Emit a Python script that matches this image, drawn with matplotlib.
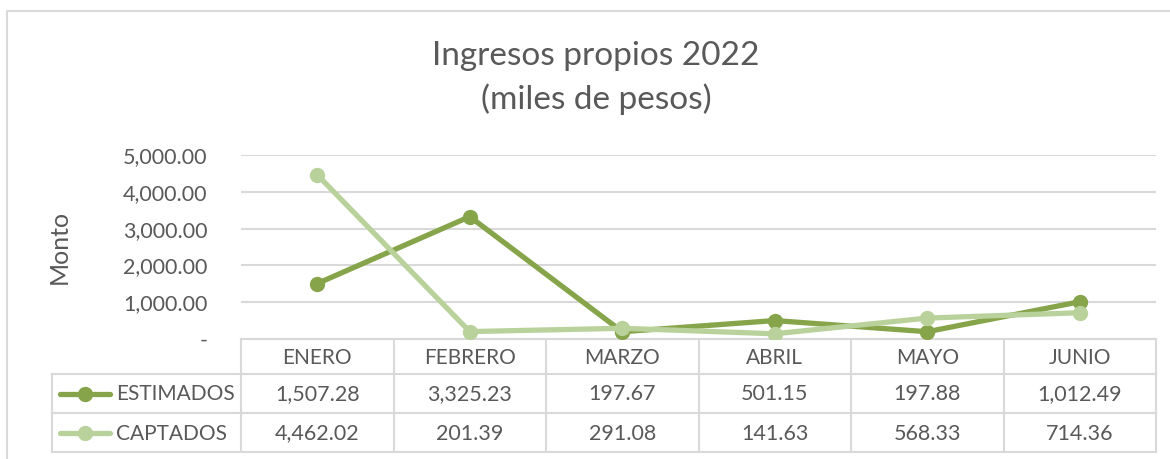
import matplotlib.pyplot as plt
from matplotlib.ticker import FuncFormatter

plt.rcParams['font.family'] = ['Lato', 'DejaVu Sans']

meses = ['ENERO', 'FEBRERO', 'MARZO', 'ABRIL', 'MAYO', 'JUNIO']
estimados = [1507.28, 3325.23, 197.67, 501.15, 197.88, 1012.49]
captados = [4462.02, 201.39, 291.08, 141.63, 568.33, 714.36]
series_names = ['ESTIMADOS', 'CAPTADOS']
series_colors = ['#86A44A', '#B9D29C']

W, H = 1170, 459
txt = '#595959'
grid = '#D9D9D9'

fig = plt.figure(figsize=(W / 100, H / 100), dpi=100)

# overlay axes in pixel coordinates for frame + table
ov = fig.add_axes([0, 0, 1, 1])
ov.set_xlim(0, W)
ov.set_ylim(H, 0)
ov.axis('off')

# chart frame (left and top edges visible)
ov.plot([6.5, 6.5, W], [H, 10.5, 10.5], color=grid, lw=1.5, solid_capstyle='butt')

# plot area
x0, x1 = 241, 1156
y_top, y_bot = 155, 339
ax = fig.add_axes([x0 / W, (H - y_bot) / H, (x1 - x0) / W, (y_bot - y_top) / H])
ax.set_facecolor('none')
xs = range(len(meses))
ax.plot(xs, estimados, color=series_colors[0], lw=3.8, marker='o', ms=10, zorder=3)
ax.plot(xs, captados, color=series_colors[1], lw=3.8, marker='o', ms=10, zorder=4)
ax.set_xlim(-0.5, len(meses) - 0.5)
ax.set_ylim(0, 5000)
ax.set_yticks([0, 1000, 2000, 3000, 4000, 5000])
ax.yaxis.set_major_formatter(FuncFormatter(lambda v, p: '-' if v == 0 else f'{v:,.2f}'))
ax.tick_params(axis='y', length=0, pad=24, labelsize=15.5, labelcolor=txt)
ax.set_xticks([])
for s in ax.spines.values():
    s.set_visible(False)
ax.grid(axis='y', color=grid, lw=1.5)
ax.set_axisbelow(True)
ax.set_ylabel('Monto', fontsize=18, color=txt, labelpad=38)

fig.text(596 / W, 1 - 78 / H, 'Ingresos propios 2022\n(miles de pesos)', ha='center', va='center',
         fontsize=24, color=txt, linespacing=1.45)

# data table
col_w = (x1 - x0) / len(meses)
rows = [339, 374, 413, 452]
lx = 52
lk = dict(color=grid, lw=1.5, solid_capstyle='projecting')
ov.plot([x0, x1], [rows[0], rows[0]], **lk)
for r in rows[1:]:
    ov.plot([lx, x1], [r, r], **lk)
for k in range(len(meses) + 1):
    ov.plot([x0 + k * col_w] * 2, [rows[0], rows[-1]], **lk)
ov.plot([lx, lx], [rows[1], rows[-1]], **lk)

for i, m in enumerate(meses):
    cx = x0 + (i + 0.5) * col_w
    ov.text(cx, (rows[0] + rows[1]) / 2 + 1, m, ha='center', va='center', fontsize=15, color=txt)
    for j, vals in enumerate([estimados, captados]):
        ov.text(cx, (rows[j + 1] + rows[j + 2]) / 2 + 1, f'{vals[i]:,.2f}', ha='center', va='center',
                fontsize=15.5, color=txt)

for j, name in enumerate(series_names):
    cy = (rows[j + 1] + rows[j + 2]) / 2
    ov.plot([60, 110], [cy, cy], color=series_colors[j], lw=3.8, solid_capstyle='round')
    ov.plot([85], [cy], marker='o', ms=10, color=series_colors[j])
    ov.text(116, cy + 1, name, ha='left', va='center', fontsize=15, color=txt)

fig.savefig('out.png', dpi=100)
